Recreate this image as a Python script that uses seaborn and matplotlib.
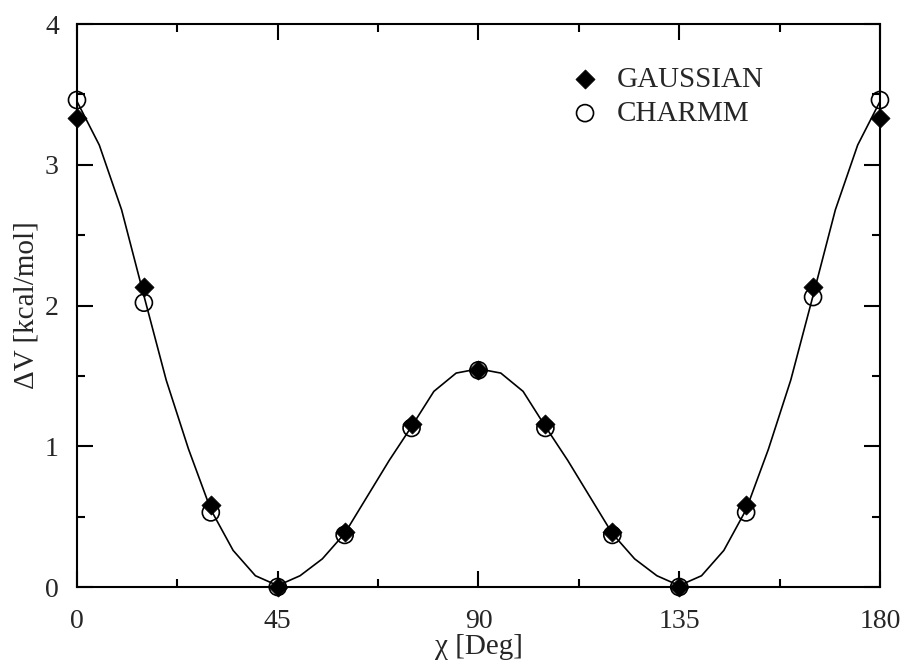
import matplotlib
matplotlib.use("Agg")
import matplotlib.pyplot as plt
from matplotlib.ticker import MultipleLocator
import pandas as pd
import seaborn as sns

# dihedral angles of the scan points
chi_points = [0, 15, 30, 45, 60, 75, 90, 105, 120, 135, 150, 165, 180]
gaussian = [3.33, 2.13, 0.58, 0.0, 0.39, 1.16, 1.54, 1.16, 0.39, 0.0, 0.58, 2.13, 3.33]
charmm = [3.46, 2.02, 0.53, 0.0, 0.37, 1.13, 1.54, 1.13, 0.37, 0.0, 0.53, 2.06, 3.46]

# CHARMM energy curve, 5 degree steps
chi_curve = [0, 5, 10, 15, 20, 25, 30, 35, 40, 45, 50, 55, 60, 65, 70, 75, 80, 85, 90,
             95, 100, 105, 110, 115, 120, 125, 130, 135, 140, 145, 150, 155, 160, 165,
             170, 175, 180]
v_curve = [3.45, 3.14, 2.68, 2.07, 1.47, 0.98, 0.55, 0.26, 0.08, 0.01, 0.08, 0.20, 0.38,
           0.64, 0.90, 1.14, 1.39, 1.52, 1.55, 1.52, 1.39, 1.14, 0.90, 0.64, 0.38, 0.20,
           0.08, 0.01, 0.08, 0.26, 0.55, 0.98, 1.47, 2.07, 2.68, 3.14, 3.45]

sns.set_style("ticks")
plt.rcParams['font.family'] = ['Liberation Serif', 'DejaVu Serif']

df_pts = pd.DataFrame({'chi': chi_points, 'gaussian': gaussian, 'charmm': charmm})
df_curve = pd.DataFrame({'chi': chi_curve, 'v': v_curve})

fig = plt.figure(figsize=(9.1, 6.6), dpi=100)
ax = fig.add_axes([0.0846, 0.1106, 0.8824, 0.853])

sns.lineplot(x='chi', y='v', data=df_curve, ax=ax, color='black', linewidth=1.2,
             sort=False, legend=False, zorder=2)
sns.scatterplot(x='chi', y='gaussian', data=df_pts, ax=ax, marker='D', s=95,
                color='black', edgecolor='black', linewidth=0.5, label='GAUSSIAN',
                zorder=3, clip_on=False)
sns.scatterplot(x='chi', y='charmm', data=df_pts, ax=ax, marker='o', s=150,
                facecolor='none', edgecolor='black', linewidth=1.2, label='CHARMM',
                zorder=4, clip_on=False)

ax.set_xlim(0, 180)
ax.set_ylim(0, 4)
ax.xaxis.set_major_locator(MultipleLocator(45))
ax.xaxis.set_minor_locator(MultipleLocator(22.5))
ax.yaxis.set_major_locator(MultipleLocator(1))
ax.yaxis.set_minor_locator(MultipleLocator(0.5))
ax.tick_params(which='both', direction='in', top=True, right=True, width=1.5,
               labelsize=20, color='black')
ax.tick_params(which='major', length=11.5)
ax.tick_params(which='minor', length=6)
ax.tick_params(axis='x', which='major', pad=16)
ax.tick_params(axis='y', which='major', pad=13)
for sp in ax.spines.values():
    sp.set_linewidth(1.5)
    sp.set_color('black')

ax.set_xlabel('χ [Deg]', fontsize=21, labelpad=-0.5)
ax.set_ylabel('ΔV [kcal/mol]', fontsize=21, labelpad=4)

leg = ax.legend(loc='upper left', bbox_to_anchor=(0.6, 0.945), frameon=False,
                fontsize=21, handletextpad=0.6, labelspacing=0.25,
                handlelength=1.0, borderaxespad=0)

plt.savefig('out.png', dpi=100)
